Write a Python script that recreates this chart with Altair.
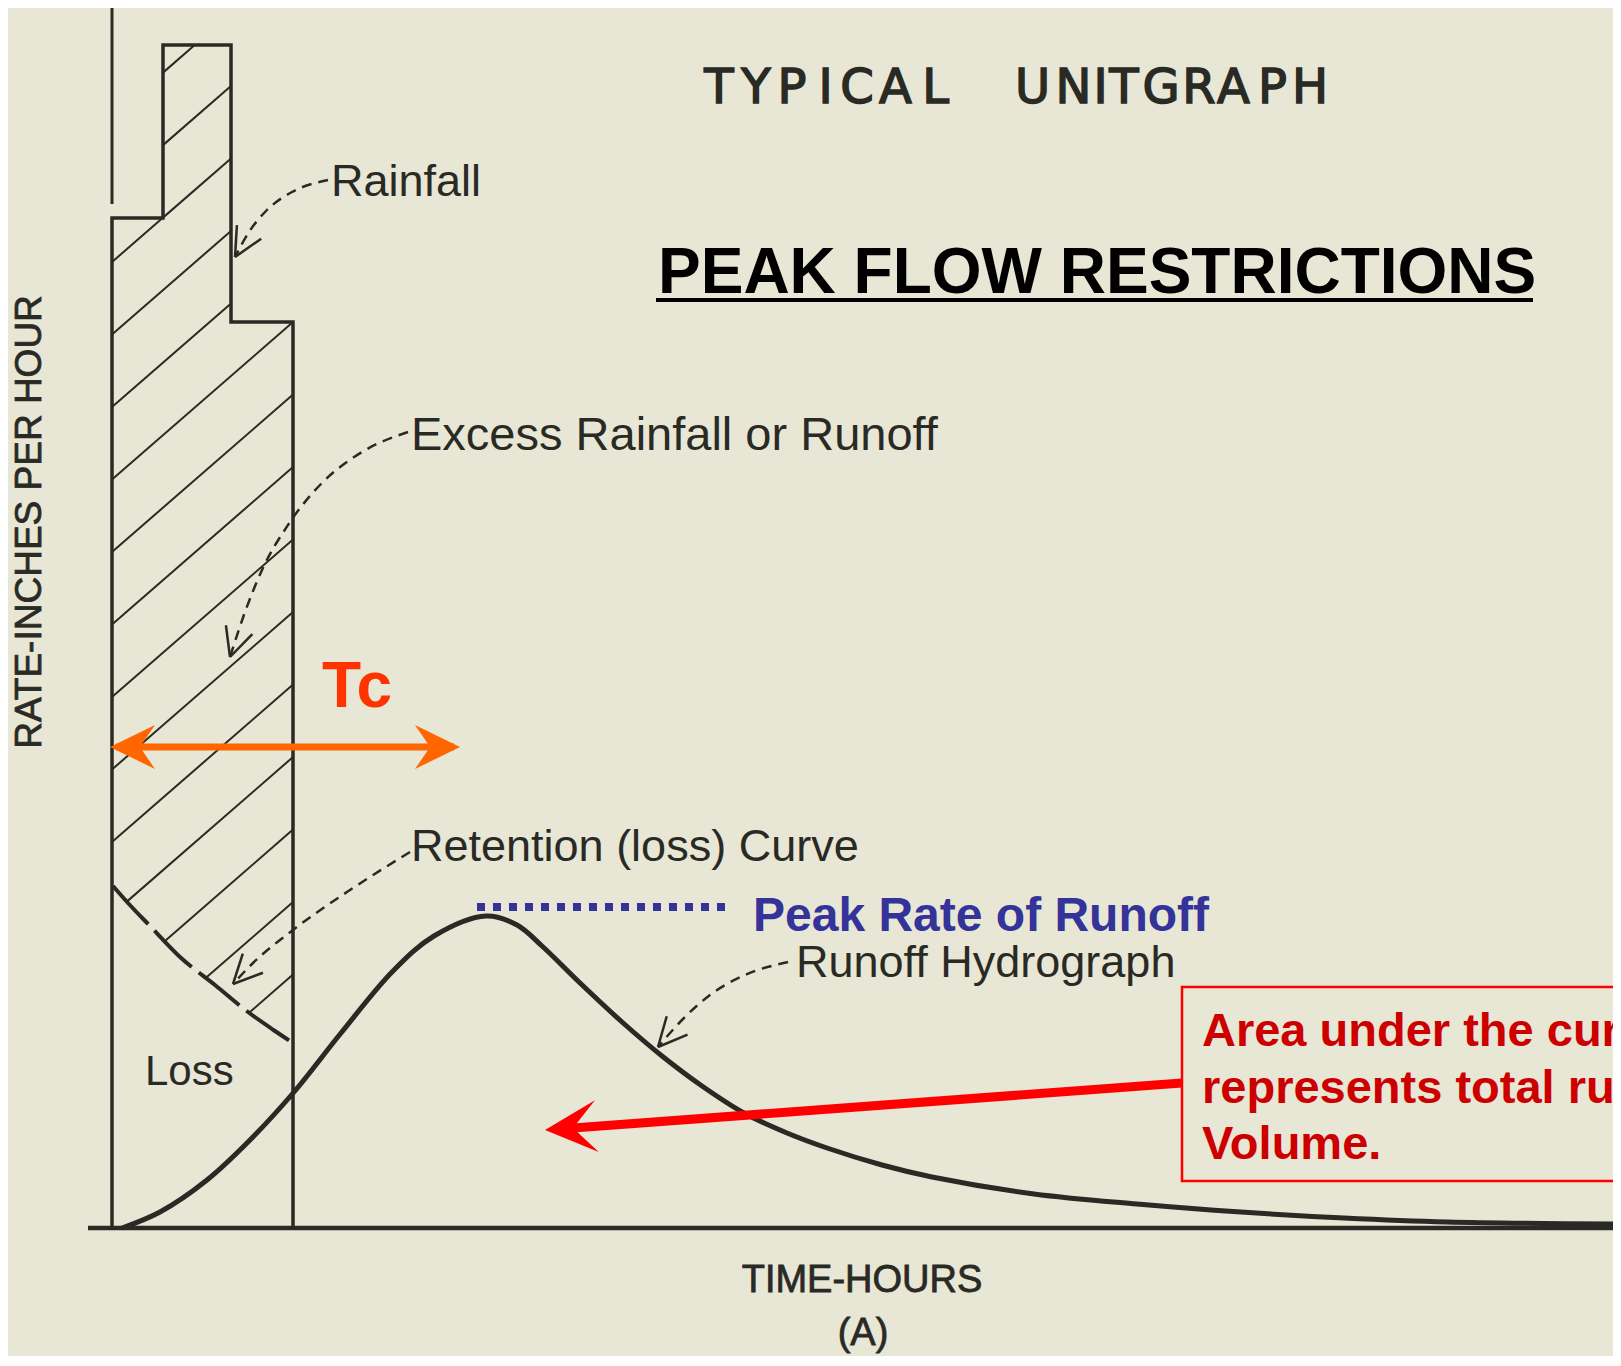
import altair as alt
import pandas as pd
import numpy as np

# ---------------- data (time in hours, rate in inches per hour) ----------------
# rainfall hyetograph: block edges and block intensities
rain_t = [0.00, 0.51, 1.19, 1.81]
rain_r = [10.10, 11.83, 9.06]
axis_top = [10.24, 12.23]          # upper part of the rate axis above the first block

# retention (loss) curve
ret_t = [0.01, 0.16, 0.38, 0.68, 1.03, 1.36, 1.63, 1.81]
ret_r = [3.42, 3.25, 3.02, 2.71, 2.43, 2.16, 1.97, 1.85]

# runoff hydrograph
hyd_t = [0.10, 0.48, 0.95, 1.38, 1.82, 2.29, 2.81, 3.22, 3.74, 4.05, 4.30, 4.67,
         5.10, 5.50, 5.90, 6.32, 6.75, 7.15, 7.70, 8.20, 9.22, 10.25, 11.29, 12.32,
         13.35, 15.01]
hyd_r = [0.00, 0.16, 0.48, 0.88, 1.36, 1.95, 2.57, 2.92, 3.12, 3.03, 2.82, 2.46,
         2.06, 1.72, 1.42, 1.15, 0.95, 0.80, 0.63, 0.51, 0.34, 0.24, 0.16, 0.10,
         0.06, 0.04]

base_t = [-0.24, 15.01]

# peak rate of runoff (dotted marker)
peak_t = [3.65, 6.14]
peak_r = 3.21

# Tc arrow
tc_t = [-0.02, 3.48]
tc_r = 4.81

# dashed leader lines (label -> feature)
lead_rain_t = [2.16, 1.80, 1.54, 1.37, 1.23]
lead_rain_r = [10.48, 10.36, 10.17, 9.96, 9.71]
lead_exc_t = [2.96, 2.50, 2.08, 1.76, 1.50, 1.33, 1.18]
lead_exc_r = [7.96, 7.76, 7.43, 7.03, 6.58, 6.16, 5.71]
lead_ret_t = [2.98, 2.38, 1.81, 1.41, 1.21]
lead_ret_r = [3.76, 3.38, 2.98, 2.65, 2.44]
lead_hyd_t = [6.76, 6.33, 5.98, 5.70, 5.46]
lead_hyd_r = [2.66, 2.53, 2.33, 2.08, 1.81]

# red call-out
box_t = [10.70, 15.60]
box_r = [0.47, 2.41]
red_arrow_t = [10.70, 4.33]
red_arrow_r = [1.45, 0.98]
box_lines = ["Area under the curve", "represents total runoff", "Volume."]

title_letters = list("TYPICAL") + list("UNITGRAPH")
title_centers = [6.07, 6.44, 6.80, 7.135, 7.45, 7.835, 8.235,
                 9.205, 9.615, 9.885, 10.12, 10.49, 10.87, 11.215, 11.605, 11.98]

INK = "#2a2a25"
BG = "#e8e6d5"

xs = alt.Scale(domain=[-1.04, 15.01], nice=False, zero=False)
ys = alt.Scale(domain=[-1.28, 12.20], nice=False, zero=False)


def X(f="t"):
    return alt.X(f, type="quantitative", scale=xs, axis=None)


def Y(f="r"):
    return alt.Y(f, type="quantitative", scale=ys, axis=None)


# ---------------- derived tables ----------------
outline = [(0.0, 0.0)]
for i, rr in enumerate(rain_r):
    outline.append((rain_t[i], rr))
    outline.append((rain_t[i + 1], rr))
outline.append((rain_t[-1], 0.0))
outline_df = pd.DataFrame({"t": [p[0] for p in outline], "r": [p[1] for p in outline],
                           "i": range(len(outline))})

# hatch of the excess-rainfall area (between blocks and retention curve)
ts = np.linspace(0.0, rain_t[-1], 4000)
idx = np.clip(np.searchsorted(rain_t, ts, side="right") - 1, 0, len(rain_r) - 1)
top = np.array(rain_r)[idx]
bot = np.interp(ts, ret_t, ret_r)
hatch = []
for k in range(0, 30):
    r0 = 11.11 - 0.725 * k
    rr = r0 + 0.87 * ts
    inside = (rr <= top + 1e-9) & (rr >= bot)
    j = 0
    n = len(ts)
    while j < n:
        if inside[j]:
            s = j
            while j + 1 < n and inside[j + 1]:
                j += 1
            if j > s:
                hatch.append({"t": ts[s], "r": rr[s], "t2": ts[j], "r2": rr[j]})
        j += 1
hatch_df = pd.DataFrame(hatch)

leaders = []
wings = []
for name, lt, lr in [("rain", lead_rain_t, lead_rain_r), ("exc", lead_exc_t, lead_exc_r),
                     ("ret", lead_ret_t, lead_ret_r), ("hyd", lead_hyd_t, lead_hyd_r)]:
    for i, (a, b) in enumerate(zip(lt, lr)):
        leaders.append({"id": name, "i": i, "t": a, "r": b})
    tip = np.array([lt[-1], lr[-1]])
    back = np.array([lt[-2], lr[-2]])
    d = (back - tip) / np.linalg.norm(back - tip)
    for ang in (0.45, -0.45):
        c, s = np.cos(ang), np.sin(ang)
        w = tip + 0.32 * np.array([d[0] * c - d[1] * s, d[0] * s + d[1] * c])
        wings.append({"t": tip[0], "r": tip[1], "t2": w[0], "r2": w[1]})
leaders_df = pd.DataFrame(leaders)
wings_df = pd.DataFrame(wings)

# ---------------- layers ----------------
hatch_l = alt.Chart(hatch_df).mark_rule(color=INK, strokeWidth=2).encode(
    x=X(), y=Y(), x2="t2", y2="r2")

outline_l = alt.Chart(outline_df).mark_line(color=INK, strokeWidth=3.5).encode(
    x=X(), y=Y(), order="i")

axis_l = alt.Chart(pd.DataFrame({"t": [0.0], "r": [axis_top[0]], "r2": [axis_top[1]]})).mark_rule(
    color=INK, strokeWidth=3).encode(x=X(), y=Y(), y2="r2")

base_l = alt.Chart(pd.DataFrame({"t": [base_t[0]], "t2": [base_t[1]], "r": [0.0]})).mark_rule(
    color=INK, strokeWidth=4.5).encode(x=X(), x2="t2", y=Y())

ret_l = alt.Chart(pd.DataFrame({"t": ret_t, "r": ret_r})).mark_line(
    color=INK, strokeWidth=4, strokeDash=[52, 9], interpolate="monotone").encode(x=X(), y=Y())

hyd_l = alt.Chart(pd.DataFrame({"t": hyd_t, "r": hyd_r})).mark_line(
    color=INK, strokeWidth=5, interpolate="catmull-rom").encode(x=X(), y=Y())

lead_l = alt.Chart(leaders_df).mark_line(
    color=INK, strokeWidth=2.5, strokeDash=[10, 7], interpolate="monotone").encode(
    x=X(), y=Y(), detail="id", order="i")

wing_l = alt.Chart(wings_df).mark_rule(color=INK, strokeWidth=2.5).encode(
    x=X(), y=Y(), x2="t2", y2="r2")

peak_l = alt.Chart(pd.DataFrame({"t": [peak_t[0]], "t2": [peak_t[1]], "r": [peak_r]})).mark_rule(
    color="#333399", strokeWidth=8, strokeDash=[8, 8], strokeCap="butt").encode(
    x=X(), x2="t2", y=Y())

tc_line = alt.Chart(pd.DataFrame({"t": [tc_t[0] + 0.06], "t2": [tc_t[1] - 0.06], "r": [tc_r]})).mark_rule(
    color="#ff6600", strokeWidth=7).encode(x=X(), x2="t2", y=Y())
tc_heads = alt.Chart(pd.DataFrame({"t": tc_t, "r": [tc_r, tc_r], "ang": [180, 0]})).mark_point(
    shape="M0,0L-2,-0.98L-1.33,0L-2,0.98Z", filled=True, size=2025, color="#ff6600",
    opacity=1, strokeWidth=0).encode(x=X(), y=Y(), angle=alt.Angle("ang:Q", scale=None))

box_l = alt.Chart(pd.DataFrame({"t": [box_t[0]], "t2": [box_t[1]], "r": [box_r[0]], "r2": [box_r[1]]})).mark_rect(
    fillOpacity=0, stroke="#ff0000", strokeWidth=2.5).encode(x=X(), x2="t2", y=Y(), y2="r2")

red_line = alt.Chart(pd.DataFrame({"t": [red_arrow_t[0]], "t2": [4.61], "r": [red_arrow_r[0]], "r2": [1.00]})).mark_rule(
    color="#ff0000", strokeWidth=9).encode(x=X(), x2="t2", y=Y(), y2="r2")
red_head = alt.Chart(pd.DataFrame({"t": [red_arrow_t[1]], "r": [red_arrow_r[1]]})).mark_point(
    shape="M0,0L-2,-1L-1.08,0L-2,1Z", filled=True, size=2704, color="#ff0000",
    opacity=1, strokeWidth=0, angle=175.8).encode(x=X(), y=Y())


def txt(df, **kw):
    return alt.Chart(df).mark_text(**kw).encode(x=X(), y=Y(), text="s:N")


labels_df = pd.DataFrame({
    "s": ["Rainfall", "Excess Rainfall or Runoff", "Retention (loss) Curve", "Runoff  Hydrograph"],
    "t": [2.19, 2.99, 2.99, 6.84],
    "r": [10.32, 7.78, 3.67, 2.51],
    "fs": [45, 47, 45, 45],
})
labels_l = alt.Chart(labels_df).mark_text(
    align="left", baseline="alphabetic", font="Liberation Sans", color=INK).encode(
    x=X(), y=Y(), text="s:N", size=alt.Size("fs:Q", scale=None))

loss_l = txt(pd.DataFrame({"s": ["Loss"], "t": [0.33], "r": [1.43]}),
             align="left", baseline="alphabetic", font="Liberation Sans", fontSize=42, color=INK)

title_df = pd.DataFrame({"s": title_letters, "t": title_centers, "r": [11.25] * len(title_letters)})
title_l = txt(title_df, align="center", baseline="alphabetic", font="DejaVu Sans", fontSize=48,
              color=INK, stroke=INK, strokeWidth=1.5)

xlab_l = txt(pd.DataFrame({"s": ["TIME-HOURS"], "t": [7.50], "r": [-0.64]}),
             align="center", baseline="alphabetic", font="Liberation Sans", fontSize=38,
             color=INK, stroke=INK, strokeWidth=0.8)
alab_l = txt(pd.DataFrame({"s": ["(A)"], "t": [7.51], "r": [-1.17]}),
             align="center", baseline="alphabetic", font="Liberation Sans", fontSize=38,
             color=INK, stroke=INK, strokeWidth=0.8)

ylab_l = txt(pd.DataFrame({"s": ["RATE-INCHES PER HOUR"], "t": [-0.82], "r": [7.06]}),
             align="center", baseline="middle", font="Liberation Sans", fontSize=37, angle=270,
             color=INK, stroke=INK, strokeWidth=0.8)

head_l = txt(pd.DataFrame({"s": ["PEAK FLOW RESTRICTIONS"], "t": [5.46], "r": [9.354]}),
             align="left", baseline="alphabetic", font="Liberation Sans", fontWeight="bold",
             fontSize=64, color="#000000")
underline_l = alt.Chart(pd.DataFrame({"t": [5.44], "t2": [14.21], "r": [9.28]})).mark_rule(
    color="#000000", strokeWidth=4).encode(x=X(), x2="t2", y=Y())

tc_text = txt(pd.DataFrame({"s": ["Tc"], "t": [2.45], "r": [5.21]}),
              align="center", baseline="alphabetic", font="Liberation Sans", fontWeight="bold",
              fontSize=64, color="#ff3300")

peak_text = txt(pd.DataFrame({"s": ["Peak Rate of Runoff"], "t": [6.41], "r": [2.97]}),
                align="left", baseline="alphabetic", font="Liberation Sans", fontWeight="bold",
                fontSize=48, color="#333399")

box_text = txt(pd.DataFrame({"s": box_lines, "t": [10.90] * 3, "r": [1.82, 1.25, 0.69]}),
               align="left", baseline="alphabetic", font="Liberation Sans", fontWeight="bold",
               fontSize=47, color="#cc0000")

chart = alt.layer(
    hatch_l, ret_l, outline_l, axis_l, base_l, hyd_l, lead_l, wing_l, peak_l,
    tc_line, tc_heads, box_l, red_line, red_head,
    labels_l, loss_l, title_l, xlab_l, alab_l, ylab_l, head_l, underline_l, tc_text,
    peak_text, box_text,
).properties(
    width=1605, height=1348, padding=0,
    autosize=alt.AutoSizeParams(type="none"), background=BG,
).configure_view(stroke=None)

chart.save("out.html", embed_options={"renderer": "svg", "actions": False})
